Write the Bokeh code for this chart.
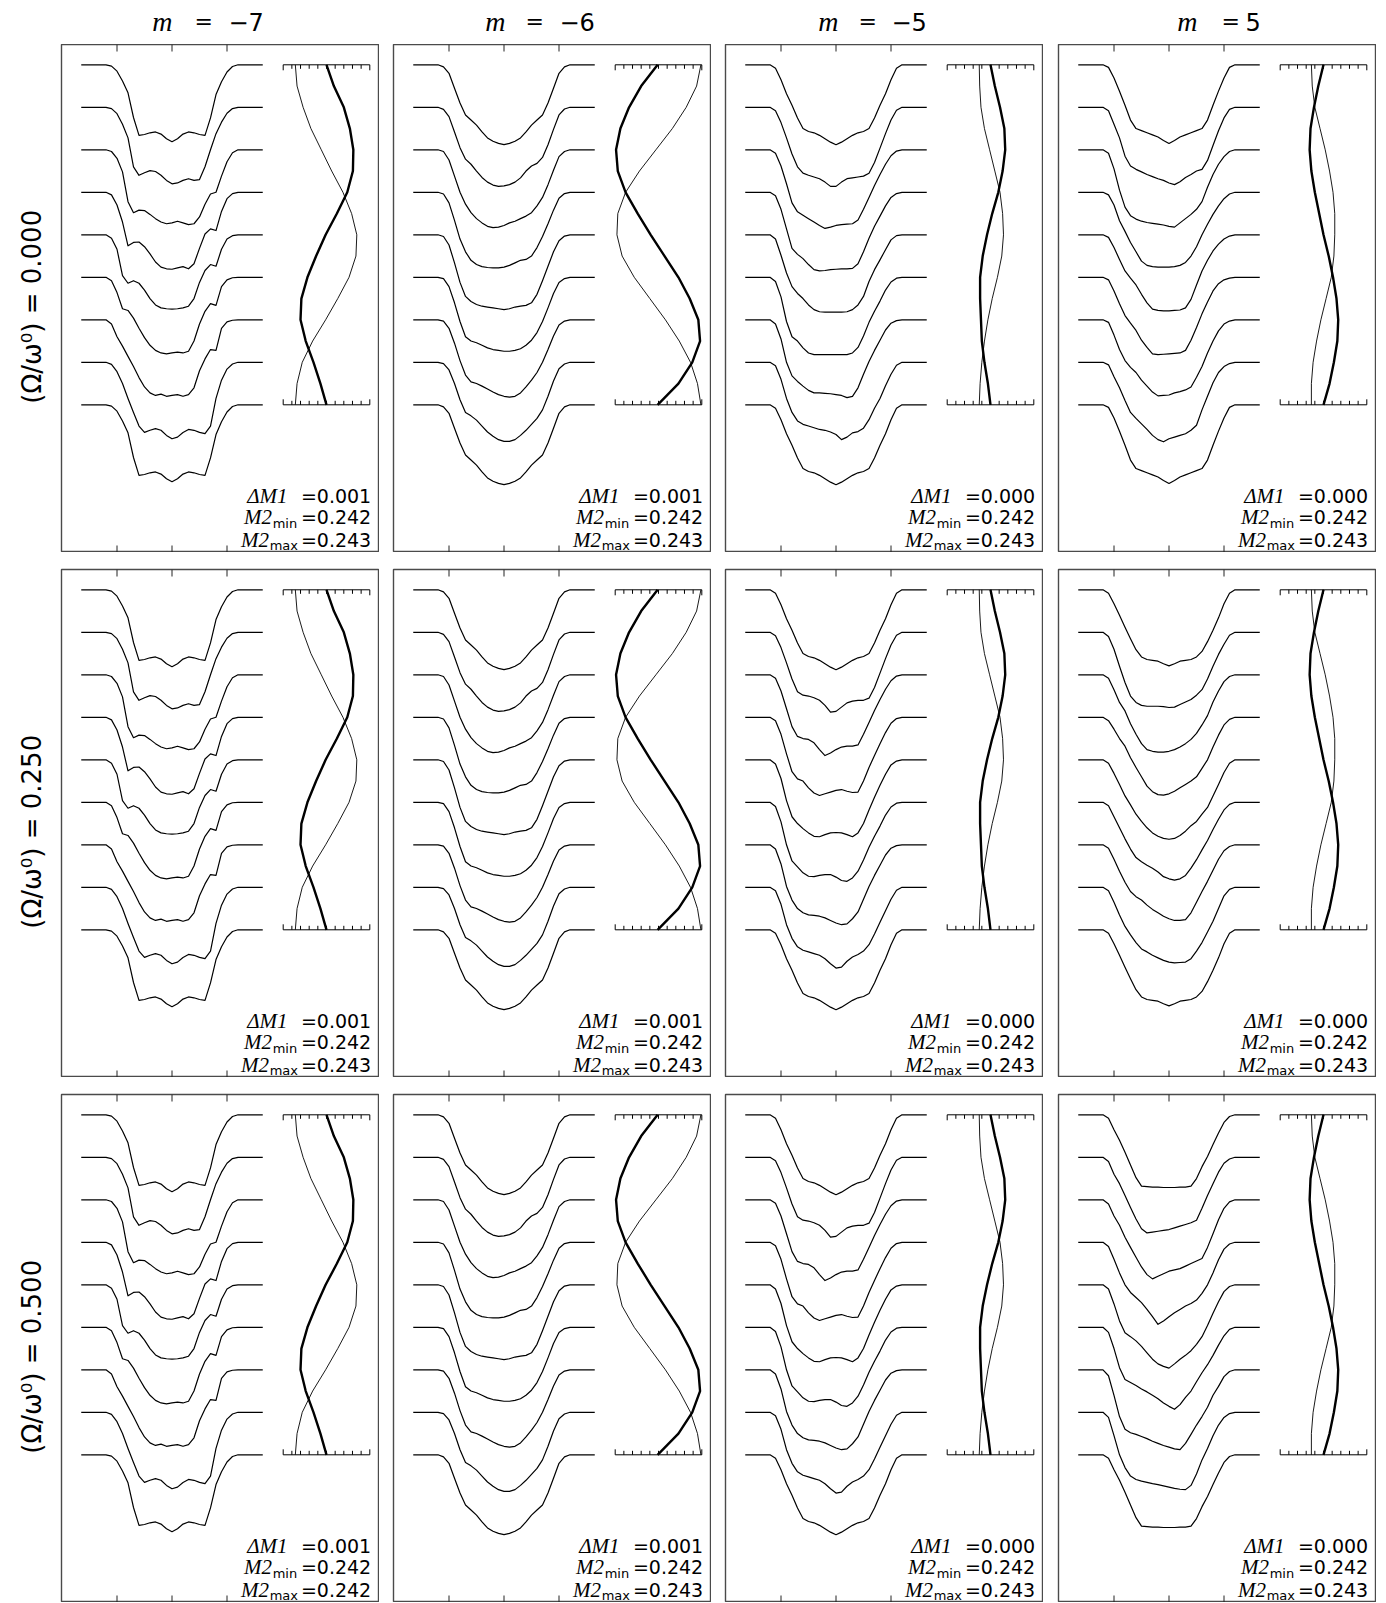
from bokeh.plotting import figure
from bokeh.layouts import gridplot
from bokeh.models import Range1d, LinearAxis, FixedTicker, Label
from bokeh.embed import file_html
from bokeh.resources import INLINE

# ---------------- data ----------------
M_VALUES = [-7, -6, -5, 5]
OMEGA_LABELS = ["0.000", "0.250", "0.500"]
DM1 = [["0.001", "0.001", "0.000", "0.000"],
       ["0.001", "0.001", "0.000", "0.000"],
       ["0.001", "0.001", "0.000", "0.000"]]
M2MIN = [["0.242", "0.242", "0.242", "0.242"],
         ["0.242", "0.242", "0.242", "0.242"],
         ["0.242", "0.242", "0.242", "0.242"]]
M2MAX = [["0.243", "0.243", "0.243", "0.243"],
         ["0.243", "0.243", "0.243", "0.243"],
         ["0.242", "0.243", "0.243", "0.243"]]

# velocity grid (axis ticks at -1, 0, 1) and continuum ends
VEL = [-1.2, -1.1, -1.0, -0.9, -0.8, -0.7, -0.6, -0.5, -0.4, -0.3, -0.2, -0.1, 0.0,
       0.1, 0.2, 0.3, 0.4, 0.5, 0.6, 0.7, 0.8, 0.9, 1.0, 1.1, 1.2]
VEL_EDGE = 1.65
VEL_TICKS = [-1, 0, 1]

# line depth below each continuum, in % of the spacing between successive profiles
PROF_M7 = [
    [0, 3, 15, 38, 66, 124, 166, 164, 160, 158, 163, 174, 181, 174, 163, 158, 160, 164, 166, 125, 70, 40, 17, 4, 0],
    [0, 3, 15, 40, 72, 140, 160, 154, 149, 151, 160, 172, 180, 178, 172, 168, 172, 170, 140, 100, 62, 35, 14, 3, 0],
    [0, 4, 20, 52, 122, 148, 142, 143, 152, 162, 170, 174, 172, 168, 172, 176, 174, 158, 128, 104, 100, 62, 28, 7, 0],
    [0, 6, 30, 70, 126, 118, 117, 128, 145, 164, 176, 180, 181, 178, 175, 180, 168, 132, 98, 86, 90, 45, 15, 3, 0],
    [0, 8, 34, 96, 114, 108, 114, 130, 150, 165, 172, 174, 175, 174, 172, 168, 150, 112, 84, 70, 74, 34, 10, 2, 0],
    [0, 8, 36, 74, 78, 96, 120, 142, 160, 172, 178, 180, 178, 176, 178, 174, 150, 110, 80, 62, 66, 22, 6, 1, 0],
    [0, 10, 40, 62, 86, 110, 136, 158, 172, 178, 175, 180, 178, 176, 180, 176, 160, 120, 92, 70, 72, 20, 5, 1, 0],
    [0, 5, 22, 50, 85, 118, 150, 165, 160, 156, 160, 172, 180, 176, 165, 158, 160, 165, 168, 150, 85, 42, 16, 4, 0],
    [0, 3, 15, 38, 66, 124, 166, 164, 160, 158, 163, 174, 181, 174, 163, 158, 160, 164, 166, 125, 70, 40, 17, 4, 0],
]
PROF_M6 = [
    [0, 5, 20, 55, 90, 118, 130, 142, 158, 172, 180, 185, 188, 185, 180, 172, 158, 142, 130, 118, 90, 55, 20, 5, 0],
    [0, 5, 22, 58, 95, 122, 134, 150, 165, 176, 183, 186, 185, 182, 176, 166, 150, 138, 132, 118, 88, 52, 18, 4, 0],
    [0, 4, 24, 62, 100, 128, 148, 162, 172, 180, 183, 182, 178, 172, 168, 162, 156, 148, 132, 112, 82, 48, 16, 4, 0],
    [0, 4, 25, 66, 110, 140, 160, 170, 175, 177, 178, 178, 176, 172, 166, 160, 158, 150, 130, 104, 74, 42, 14, 3, 0],
    [0, 4, 24, 66, 112, 145, 157, 164, 168, 170, 172, 174, 176, 174, 170, 168, 166, 160, 140, 108, 74, 40, 14, 3, 0],
    [0, 3, 22, 60, 104, 140, 150, 154, 160, 166, 170, 172, 174, 174, 172, 168, 160, 148, 130, 104, 72, 38, 12, 3, 0],
    [0, 3, 20, 55, 96, 130, 146, 150, 156, 163, 170, 176, 180, 182, 180, 172, 158, 142, 124, 100, 70, 38, 12, 3, 0],
    [0, 3, 18, 50, 88, 118, 126, 136, 150, 164, 174, 182, 186, 186, 182, 172, 160, 146, 132, 112, 80, 44, 15, 4, 0],
    [0, 5, 20, 55, 90, 118, 130, 142, 158, 172, 180, 185, 188, 185, 180, 172, 158, 142, 130, 118, 90, 55, 20, 5, 0],
]
PROF_M5_A = [
    [0, 8, 35, 68, 95, 125, 150, 157, 160, 166, 174, 182, 188, 182, 174, 166, 160, 157, 150, 125, 95, 68, 35, 8, 0],
    [0, 8, 36, 72, 110, 140, 155, 160, 164, 168, 176, 186, 186, 176, 168, 166, 164, 162, 155, 130, 96, 62, 30, 7, 0],
    [0, 8, 38, 80, 125, 146, 154, 162, 170, 178, 185, 182, 178, 176, 175, 174, 165, 140, 112, 84, 58, 34, 14, 3, 0],
    [0, 8, 40, 86, 132, 146, 156, 170, 182, 185, 184, 182, 181, 180, 180, 179, 168, 140, 108, 80, 56, 32, 12, 3, 0],
    [0, 10, 48, 90, 122, 138, 150, 165, 176, 181, 182, 182, 182, 182, 181, 176, 165, 145, 110, 82, 59, 35, 12, 2, 0],
    [0, 10, 46, 104, 140, 150, 166, 178, 182, 182, 182, 182, 182, 182, 182, 178, 165, 138, 106, 80, 56, 30, 11, 2, 0],
    [0, 10, 45, 100, 132, 145, 156, 166, 172, 172, 173, 174, 176, 178, 183, 180, 160, 128, 98, 72, 48, 24, 8, 2, 0],
    [0, 8, 40, 85, 118, 138, 146, 150, 154, 158, 160, 164, 170, 182, 176, 166, 163, 155, 135, 108, 85, 55, 28, 7, 0],
    [0, 8, 35, 68, 95, 125, 150, 157, 160, 166, 174, 182, 188, 182, 174, 166, 160, 157, 150, 125, 95, 68, 35, 8, 0],
]
PROF_M5_B = [
    [0, 8, 35, 68, 95, 125, 150, 157, 160, 166, 174, 182, 188, 182, 174, 166, 160, 157, 150, 125, 95, 68, 35, 8, 0],
    [0, 8, 36, 72, 110, 140, 148, 150, 154, 160, 172, 188, 186, 176, 166, 162, 160, 160, 155, 130, 96, 62, 30, 7, 0],
    [0, 8, 38, 80, 122, 145, 150, 152, 160, 176, 190, 184, 176, 170, 168, 168, 165, 140, 112, 84, 58, 34, 14, 3, 0],
    [0, 8, 40, 86, 128, 145, 150, 166, 178, 184, 180, 176, 172, 170, 174, 177, 176, 150, 118, 90, 62, 36, 14, 3, 0],
    [0, 10, 44, 96, 134, 150, 162, 172, 180, 181, 176, 172, 171, 172, 176, 181, 172, 150, 118, 88, 60, 34, 12, 3, 0],
    [0, 10, 46, 100, 138, 152, 166, 174, 175, 172, 170, 170, 176, 184, 186, 178, 162, 136, 106, 80, 56, 30, 11, 2, 0],
    [0, 10, 45, 98, 130, 150, 160, 165, 166, 168, 172, 178, 184, 188, 186, 174, 158, 128, 98, 72, 48, 24, 8, 2, 0],
    [0, 8, 40, 88, 120, 140, 148, 152, 156, 160, 168, 180, 190, 188, 174, 164, 158, 150, 135, 110, 82, 55, 28, 7, 0],
    [0, 8, 35, 68, 95, 125, 150, 157, 160, 166, 174, 182, 188, 182, 174, 166, 160, 157, 150, 125, 95, 68, 35, 8, 0],
]
PROF_P5_A = [
    [0, 6, 31, 62, 95, 130, 150, 155, 160, 165, 170, 178, 185, 178, 170, 165, 160, 155, 150, 130, 95, 62, 31, 6, 0],
    [0, 8, 40, 72, 115, 138, 146, 152, 158, 163, 168, 172, 178, 182, 175, 165, 158, 150, 146, 125, 90, 55, 25, 5, 0],
    [0, 8, 45, 95, 135, 155, 163, 168, 171, 173, 175, 177, 180, 182, 172, 162, 152, 140, 122, 88, 58, 34, 16, 4, 0],
    [0, 6, 30, 67, 92, 118, 140, 162, 172, 175, 176, 176, 176, 175, 172, 165, 150, 128, 100, 75, 52, 32, 15, 4, 0],
    [0, 6, 30, 58, 85, 102, 118, 140, 160, 175, 178, 179, 179, 178, 177, 172, 152, 118, 85, 60, 38, 22, 10, 3, 0],
    [0, 6, 32, 62, 90, 108, 125, 148, 165, 180, 182, 181, 180, 179, 178, 172, 148, 118, 86, 58, 32, 15, 6, 2, 0],
    [0, 6, 36, 70, 96, 112, 124, 142, 156, 170, 179, 178, 177, 172, 169, 165, 158, 135, 110, 78, 50, 26, 10, 3, 0],
    [0, 6, 34, 60, 90, 118, 132, 145, 158, 172, 182, 187, 180, 176, 172, 168, 160, 148, 112, 80, 48, 24, 10, 3, 0],
    [0, 6, 31, 62, 95, 130, 150, 155, 160, 165, 170, 178, 185, 178, 170, 165, 160, 155, 150, 130, 95, 62, 31, 6, 0],
]
PROF_P5_B = [
    [0, 8, 33, 60, 88, 115, 141, 158, 164, 166, 168, 174, 179, 174, 168, 166, 164, 158, 145, 122, 95, 66, 33, 8, 0],
    [0, 10, 40, 80, 118, 150, 165, 172, 174, 174, 174, 175, 177, 176, 170, 164, 158, 148, 135, 110, 80, 52, 28, 7, 0],
    [0, 8, 35, 65, 85, 115, 140, 162, 176, 180, 182, 182, 180, 176, 170, 162, 152, 138, 118, 96, 64, 38, 16, 4, 0],
    [0, 8, 28, 50, 68, 95, 118, 140, 162, 175, 182, 183, 180, 174, 166, 158, 150, 140, 120, 100, 70, 42, 18, 5, 0],
    [0, 8, 32, 58, 85, 106, 128, 145, 160, 172, 180, 185, 187, 185, 178, 168, 155, 145, 128, 112, 85, 58, 30, 8, 0],
    [0, 8, 34, 60, 86, 110, 130, 140, 148, 155, 164, 175, 180, 183, 180, 172, 155, 135, 112, 90, 64, 40, 18, 5, 0],
    [0, 8, 34, 62, 88, 110, 122, 130, 142, 152, 160, 168, 174, 178, 178, 176, 160, 135, 110, 86, 60, 34, 14, 4, 0],
    [0, 8, 35, 65, 92, 112, 130, 145, 152, 160, 166, 172, 176, 178, 177, 176, 168, 150, 130, 105, 80, 50, 20, 5, 0],
    [0, 8, 33, 60, 88, 115, 141, 158, 164, 166, 168, 174, 179, 174, 168, 166, 164, 158, 145, 122, 95, 66, 33, 8, 0],
]
PROF_P5_C = [
    [0, 8, 35, 60, 88, 118, 148, 168, 169, 170, 170, 171, 171, 171, 170, 170, 168, 150, 122, 98, 70, 43, 18, 4, 0],
    [0, 10, 40, 62, 90, 118, 145, 168, 178, 176, 174, 172, 170, 166, 162, 158, 154, 148, 120, 90, 62, 35, 14, 4, 0],
    [0, 10, 38, 60, 88, 112, 135, 158, 176, 186, 180, 174, 168, 165, 162, 156, 150, 144, 138, 112, 80, 47, 20, 5, 0],
    [0, 10, 40, 72, 100, 118, 130, 142, 158, 175, 193, 185, 175, 166, 158, 150, 144, 136, 120, 100, 72, 41, 16, 4, 0],
    [0, 10, 45, 85, 113, 122, 132, 145, 160, 175, 186, 192, 196, 186, 175, 166, 155, 140, 122, 96, 67, 40, 16, 4, 0],
    [0, 12, 50, 95, 123, 130, 137, 145, 152, 160, 168, 178, 186, 193, 182, 165, 150, 128, 107, 88, 66, 42, 20, 5, 0],
    [0, 14, 60, 110, 140, 148, 152, 157, 162, 168, 173, 178, 182, 186, 188, 173, 152, 130, 110, 88, 60, 39, 16, 4, 0],
    [0, 12, 55, 100, 130, 150, 158, 162, 165, 168, 170, 173, 176, 179, 181, 182, 172, 145, 112, 85, 55, 30, 12, 3, 0],
    [0, 8, 35, 60, 88, 118, 148, 168, 169, 170, 170, 171, 171, 171, 170, 170, 168, 150, 122, 98, 70, 43, 18, 4, 0],
]
PANEL_PROFILES = [[PROF_M7, PROF_M6, PROF_M5_A, PROF_P5_A],
                  [PROF_M7, PROF_M6, PROF_M5_B, PROF_P5_B],
                  [PROF_M7, PROF_M6, PROF_M5_B, PROF_P5_C]]

# inset curves: position on the 0..10 inset scale at each half phase step
PHASE = [0.0, 0.5, 1.0, 1.5, 2.0, 2.5, 3.0, 3.5, 4.0, 4.5, 5.0, 5.5, 6.0, 6.5, 7.0, 7.5, 8.0]
INSET_TICKS = [0, 1, 2, 3, 4, 5, 6, 7, 8, 9, 10]
THICK = {
    -7: [5.0, 5.85, 7.0, 7.7, 8.1, 8.05, 7.4, 6.2, 4.9, 3.8, 2.8, 2.1, 2.0, 2.6, 3.5, 4.3, 5.0],
    -6: [4.9, 3.0, 1.6, 0.6, 0.1, 0.3, 1.2, 2.6, 4.1, 5.7, 7.3, 8.6, 9.6, 9.8, 8.9, 7.3, 4.9],
    -5: [5.0, 5.5, 6.1, 6.6, 6.7, 6.4, 5.9, 5.2, 4.6, 4.1, 3.8, 3.8, 3.9, 4.0, 4.3, 4.7, 5.0],
    5: [5.0, 4.4, 3.9, 3.5, 3.4, 3.6, 4.0, 4.5, 5.0, 5.6, 6.1, 6.5, 6.7, 6.6, 6.2, 5.7, 5.0],
}
THIN = {
    -7: [1.4, 1.6, 2.3, 3.2, 4.4, 5.6, 6.9, 7.9, 8.5, 8.4, 7.6, 6.3, 4.9, 3.4, 2.2, 1.6, 1.4],
    -6: [9.9, 9.4, 8.2, 6.6, 4.7, 2.8, 1.2, 0.3, 0.2, 0.8, 2.2, 4.0, 5.8, 7.4, 8.7, 9.5, 9.9],
    -5: [3.7, 3.75, 3.9, 4.3, 4.9, 5.5, 6.1, 6.4, 6.5, 6.3, 5.8, 5.2, 4.7, 4.3, 4.0, 3.8, 3.7],
    5: [3.6, 3.7, 4.0, 4.6, 5.2, 5.7, 6.1, 6.3, 6.3, 6.2, 5.9, 5.3, 4.7, 4.2, 3.8, 3.6, 3.6],
}

# ---------------- layout (page pixels) ----------------
FW, FH = 318, 508
HEAD_H = 44                            # height of the column-title strip
PX_X, X_CENTER = 55.0, 110.5           # px per velocity unit, px from frame left to v = 0
PX_Y, Y_TOP = 42.5, 20.3               # px per profile step, px from frame top to first continuum
INS_LEFT, INS_PX = 221.7, 8.66         # inset left end, px per inset unit
LEFT_BORDER = [61, 14, 14, 15]
TOP_BORDER = [0, 17, 17]
TICK_LEN = 7.0
# column title pieces, px from the panel centre
TITLE_M_RIGHT = {-7: -48, -6: -47, -5: -46, 5: -20}
TITLE_EQ_LEFT = {-7: -26, -6: -27, -5: -26, 5: 4}
TITLE_VAL_LEFT = {-7: 8, -6: 7, -5: 7, 5: 28}

SANS = "DejaVu Sans"
SERIF = "Liberation Serif"


def fmt_m(m):
    return ("\u2212" + str(-m)) if m < 0 else str(m)


def label(p, x, y, text, font=SANS, size="19px", style="normal", align="right", baseline="alphabetic"):
    p.add_layout(Label(x=x, y=y, x_units="screen", y_units="screen", text=text,
                       text_font=font, text_font_size=size, text_font_style=style,
                       text_align=align, text_baseline=baseline, text_color="black"))


def make_header(c):
    m = M_VALUES[c]
    h = figure(frame_width=FW, frame_height=HEAD_H,
               min_border_left=LEFT_BORDER[c], min_border_right=0,
               min_border_top=0, min_border_bottom=0,
               x_range=Range1d(0, 1), y_range=Range1d(0, 1),
               x_axis_location=None, y_axis_location=None,
               output_backend="svg", toolbar_location=None,
               background_fill_color="white", border_fill_color="white")
    h.outline_line_color = None
    h.grid.grid_line_color = None
    yc = HEAD_H - 21
    label(h, FW / 2 + TITLE_M_RIGHT[m], yc, "m", font=SERIF, size="28px", style="italic",
          align="right", baseline="middle")
    label(h, FW / 2 + TITLE_EQ_LEFT[m], yc, "=", font=SANS, size="22px", align="left", baseline="middle")
    label(h, FW / 2 + TITLE_VAL_LEFT[m], yc, fmt_m(m), font=SANS, size="24px", align="left",
          baseline="middle")
    return h


def make_panel(r, c):
    m = M_VALUES[c]
    xr = Range1d(-X_CENTER / PX_X, (FW - X_CENTER) / PX_X)
    yr = Range1d(-(FH - Y_TOP) / PX_Y, Y_TOP / PX_Y)
    p = figure(frame_width=FW, frame_height=FH,
               min_border_left=LEFT_BORDER[c], min_border_right=0,
               min_border_top=TOP_BORDER[r], min_border_bottom=0,
               x_range=xr, y_range=yr,
               x_axis_location=None, y_axis_location=None,
               output_backend="svg", toolbar_location=None,
               background_fill_color="white", border_fill_color="white")
    p.extra_x_ranges = {"ins": Range1d(-INS_LEFT / INS_PX, (FW - INS_LEFT) / INS_PX)}
    p.grid.grid_line_color = None
    p.outline_line_color = "#4a4a4a"
    p.outline_line_width = 1.4

    # velocity ticks on the top and bottom frame edges, pointing inwards
    tl = TICK_LEN / PX_Y
    n = len(VEL_TICKS)
    p.segment(x0=VEL_TICKS, y0=[yr.end] * n, x1=VEL_TICKS, y1=[yr.end - tl] * n,
              line_color="#222222", line_width=1)
    p.segment(x0=VEL_TICKS, y0=[yr.start] * n, x1=VEL_TICKS, y1=[yr.start + tl] * n,
              line_color="#222222", line_width=1)

    if c == 0:
        lab = LinearAxis(ticker=FixedTicker(ticks=[]),
                         axis_label=f"(\u03a9/\u03c9\u2070)  =  {OMEGA_LABELS[r]}",
                         axis_line_color=None, major_tick_line_color=None, minor_tick_line_color=None,
                         major_label_standoff=0,
                         axis_label_standoff=15, axis_label_text_font=SANS,
                         axis_label_text_font_size="26px", axis_label_text_font_style="normal",
                         axis_label_text_color="black")
        p.add_layout(lab, "left")

    # line profiles
    profs = PANEL_PROFILES[r][c]
    for k, prof in enumerate(profs):
        xs = [-VEL_EDGE] + VEL + [VEL_EDGE]
        ys = [-k] + [-k - d / 100.0 for d in prof] + [-k]
        p.line(xs, ys, line_color="black", line_width=1.2, line_join="round")

    # inset: moment curves over the pulsation cycle
    ph_y = [-ph for ph in PHASE]
    p.line(THIN[m], ph_y, x_range_name="ins", line_color="black", line_width=0.9)
    p.line(THICK[m], ph_y, x_range_name="ins", line_color="black", line_width=2.4)
    y_top, y_bot = -PHASE[0], -PHASE[-1]
    itl = 4.0 / PX_Y
    itl_end = 5.5 / PX_Y
    p.segment(x0=[INSET_TICKS[0], INSET_TICKS[0]], y0=[y_top, y_bot],
              x1=[INSET_TICKS[-1], INSET_TICKS[-1]], y1=[y_top, y_bot],
              x_range_name="ins", line_color="black", line_width=1)
    lens = [itl_end if (t == INSET_TICKS[0] or t == INSET_TICKS[-1]) else itl for t in INSET_TICKS]
    p.segment(x0=INSET_TICKS, y0=[y_top] * len(INSET_TICKS), x1=INSET_TICKS,
              y1=[y_top - L for L in lens], x_range_name="ins", line_color="black", line_width=1)
    p.segment(x0=INSET_TICKS, y0=[y_bot] * len(INSET_TICKS), x1=INSET_TICKS,
              y1=[y_bot + L for L in lens], x_range_name="ins", line_color="black", line_width=1)

    # moment annotations
    R = FW - 8.3
    label(p, R, 56.3, "=" + DM1[r][c])
    label(p, FW - 92, 56.3, "\u0394M1", font=SERIF, size="21px", style="italic")
    label(p, R, 35.3, "=" + M2MIN[r][c])
    label(p, FW - 82.3, 29.0, "min", size="13px")
    label(p, FW - 107.5, 35.3, "M2", font=SERIF, size="21px", style="italic")
    label(p, R, 13.0, "=" + M2MAX[r][c])
    label(p, FW - 81.5, 7.5, "max", size="13px")
    label(p, FW - 110.5, 13.0, "M2", font=SERIF, size="21px", style="italic")
    return p


rows = [[make_header(c) for c in range(4)]]
rows += [[make_panel(r, c) for c in range(4)] for r in range(3)]
grid = gridplot(rows, toolbar_location=None)
open("out.html", "w").write(file_html(grid, INLINE))
